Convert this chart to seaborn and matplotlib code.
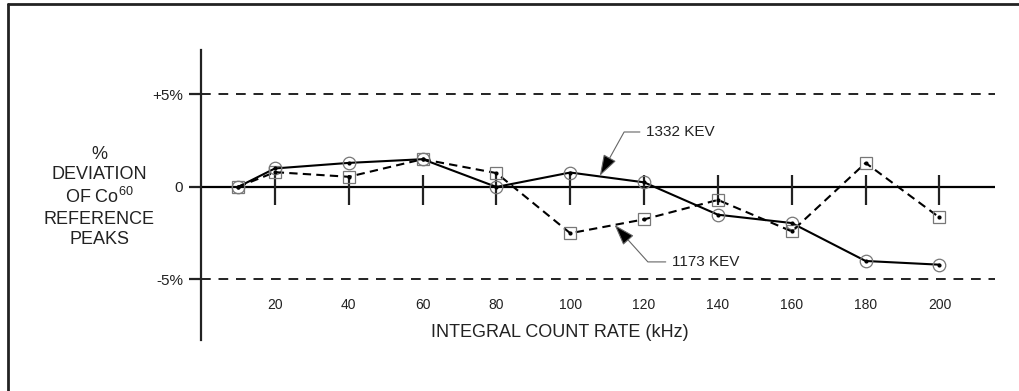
import matplotlib
matplotlib.use("Agg")
import matplotlib.pyplot as plt
import seaborn as sns
import pandas as pd
from matplotlib.lines import Line2D

# data
rate = [10, 20, 40, 60, 80, 100, 120, 140, 160, 180, 200]
dev_1332 = [0, 1.0, 1.3, 1.5, 0.0, 0.78, 0.25, -1.5, -1.95, -4.0, -4.2]
dev_1173 = [0, 0.8, 0.55, 1.5, 0.75, -2.5, -1.75, -0.7, -2.4, 1.3, -1.65]
xticks = [20, 40, 60, 80, 100, 120, 140, 160, 180, 200]
yticks = [-5, 0, 5]
ylabels = ["-5%", "0", "+5%"]

df = pd.DataFrame({
    "rate": rate * 2,
    "dev": dev_1332 + dev_1173,
    "peak": ["1332 KEV"] * len(rate) + ["1173 KEV"] * len(rate),
})

sns.set_style("white")
plt.rcParams["font.family"] = ["Liberation Sans", "DejaVu Sans"]
plt.rcParams["mathtext.fontset"] = "custom"
plt.rcParams["mathtext.rm"] = "Liberation Sans"

fig = plt.figure(figsize=(10.19, 3.91), dpi=100)
ax = fig.add_axes([0.1973, 0.1304, 0.779, 0.7417])

# reference lines
ax.axhline(0, color="black", lw=1.6, zorder=1)
ax.axhline(5, color="#222222", lw=1.4, ls=(0, (5, 4)), zorder=1)
ax.axhline(-5, color="#222222", lw=1.4, ls=(0, (5, 4)), zorder=1)
ax.vlines(xticks, -0.97, 0.65, color="#222222", lw=1.6, zorder=1)

sns.lineplot(data=df, x="rate", y="dev", style="peak", hue="peak",
             palette={"1332 KEV": "black", "1173 KEV": "black"},
             dashes={"1332 KEV": "", "1173 KEV": (4, 2.5)},
             markers={"1332 KEV": "o", "1173 KEV": "s"},
             markersize=9, markerfacecolor="none", markeredgecolor="#777777",
             markeredgewidth=0.9, lw=1.5, legend=False, ax=ax, zorder=3)
sns.scatterplot(data=df, x="rate", y="dev", color="black", s=9,
                linewidth=0, legend=False, ax=ax, zorder=4)

ax.set_xlim(0, 215)
ax.set_ylim(-8.27, 7.4)

for s in ["top", "right", "bottom"]:
    ax.spines[s].set_visible(False)
ax.spines["left"].set_linewidth(1.6)
ax.spines["left"].set_color("#222222")

ax.set_xticks(xticks)
ax.set_xticklabels([str(t) for t in xticks])
ax.tick_params(axis="x", length=0, pad=-30, labelsize=10, colors="#222222")
ax.set_yticks(yticks)
ax.set_yticklabels(ylabels)
ax.tick_params(axis="y", length=9, width=1.6, direction="out", pad=4,
               labelsize=11, colors="#222222", left=True)

ax.set_xlabel("INTEGRAL COUNT RATE (kHz)", fontsize=13, color="#222222")
ax.xaxis.set_label_coords(0.452, 0.055)
ax.set_ylabel("%\nDEVIATION\nOF Co$^{60}$\nREFERENCE\nPEAKS", rotation=0,
              ha="center", va="center", fontsize=13, linespacing=1.25,
              color="#222222")
ax.yaxis.set_label_coords(-0.128, 0.493)

arrow = dict(arrowstyle="-|>,head_length=1.2,head_width=0.4",
             fc="black", ec="#666666", lw=0.8, shrinkA=2, shrinkB=0)
ax.annotate("1332 KEV", xy=(108, 0.6), xytext=(120.5, 2.97),
            ha="left", va="center", fontsize=11, color="#222222",
            arrowprops=dict(arrow, connectionstyle="angle,angleA=0,angleB=61,rad=0"))
ax.annotate("1173 KEV", xy=(112, -2.05), xytext=(127.5, -4.05),
            ha="left", va="center", fontsize=11, color="#222222",
            arrowprops=dict(arrow, connectionstyle="angle,angleA=0,angleB=-48,rad=0"))

# partial frame round the figure
fig.add_artist(Line2D([8 / 1019, 8 / 1019], [0, 1 - 4 / 391], color="#222222", lw=2))
fig.add_artist(Line2D([8 / 1019, 1], [1 - 4 / 391, 1 - 4 / 391], color="#222222", lw=2))

fig.savefig("out.png", dpi=100)
